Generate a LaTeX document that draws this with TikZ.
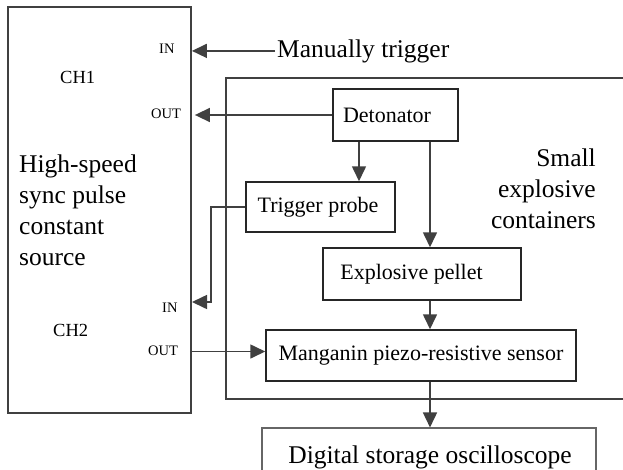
\documentclass[tikz,border=0pt]{standalone}
\usepackage{fontspec}
\setmainfont{Liberation Serif}
\usetikzlibrary{arrows.meta,calc}
\tikzset{
  wire/.style={draw=black!75, line width=1.6pt},
  arr/.style={wire, -{Triangle[length=15pt,width=14pt]}},
  blk/.style={draw=black!85, line width=1.5pt, inner sep=0pt},
  bigtxt/.style={font=\fontsize{25.5}{31}\selectfont, inner sep=0pt},
  midtxt/.style={font=\fontsize{22}{26}\selectfont, inner sep=0pt},
  chtxt/.style={font=\fontsize{18.5}{22}\selectfont, inner sep=0pt, anchor=base west},
  porttxt/.style={font=\fontsize{14.5}{17}\selectfont, inner sep=0pt, anchor=base west},
}
\begin{document}
\begin{tikzpicture}[x=1pt,y=-1pt]
\clip (0,0) rectangle (623,469);
\fill[white] (0,0) rectangle (623,469);

% pulse source
\node[blk, draw=black!75, line width=1.8pt, minimum width=183pt, minimum height=406pt] (src) at (99.5,210) {};
\node[bigtxt, anchor=north west, align=left] (srctxt) at (19,154.5)
  {High-speed\\sync pulse\\constant\\source};
\node[chtxt] (ch1) at (60,83) {CH1};
\node[chtxt] (ch2) at (53,336) {CH2};
\node[porttxt] (in1) at (159,53) {IN};
\node[porttxt] (out1) at (151,118) {OUT};
\node[porttxt] (in2) at (162,312) {IN};
\node[porttxt] (out2) at (148,355) {OUT};

% explosive container
\node[draw=black!75, line width=1.8pt, minimum width=414pt, minimum height=321pt] (cont) at (433,238.5) {};
\node[bigtxt, anchor=north east, align=right] (conttxt) at (596,148.5)
  {Small\\explosive\\containers};

% blocks
\node[blk, minimum width=125pt, minimum height=52pt] (det) at (395.5,115) {};
\node[midtxt] (dettxt) at (387,115) {Detonator};
\node[blk, minimum width=149pt, minimum height=50pt] (trig) at (320.5,207) {};
\node[midtxt] (trigtxt) at (318,207) {Trigger probe};
\node[blk, minimum width=198pt, minimum height=52pt] (pellet) at (422,274) {};
\node[midtxt] (pellettxt) at (411.5,274) {Explosive pellet};
\node[blk, minimum width=310pt, minimum height=51pt] (mang) at (421,355.5) {};
\node[midtxt] (mangtxt) at (mang) {Manganin piezo-resistive sensor};
\node[blk, draw=black!60, line width=1.1pt, minimum width=334pt, minimum height=70pt] (dso) at (429,463) {};
\node[bigtxt, anchor=base] (dsotxt) at (430,463) {Digital storage oscilloscope};

\node[bigtxt, anchor=base west] (manual) at (277,57) {Manually trigger};

% helper columns
\coordinate (spine) at (430,0);
\coordinate (branch) at (359,0);
\coordinate (turn) at (211,302);
\coordinate (p2in) at (192,302);

% connectors
\draw[arr] ([xshift=-2pt]manual.west) -- (manual.west -| src.east);
\draw[arr, shorten >=3pt] (det.west) -- (det.west -| src.east);
\draw[arr] (det.south -| branch) -- (trig.north -| branch);
\draw[arr] (det.south -| spine) -- (pellet.north -| spine);
\draw[arr] (trig.west) -| (turn) -- (p2in);
\draw[arr] ([yshift=4pt]mang.west -| src.east) -- ([yshift=4pt]mang.west);
\draw[arr] (pellet.south -| spine) -- (mang.north -| spine);
\draw[arr] (mang.south -| spine) -- (dso.north -| spine);
\end{tikzpicture}
\end{document}
